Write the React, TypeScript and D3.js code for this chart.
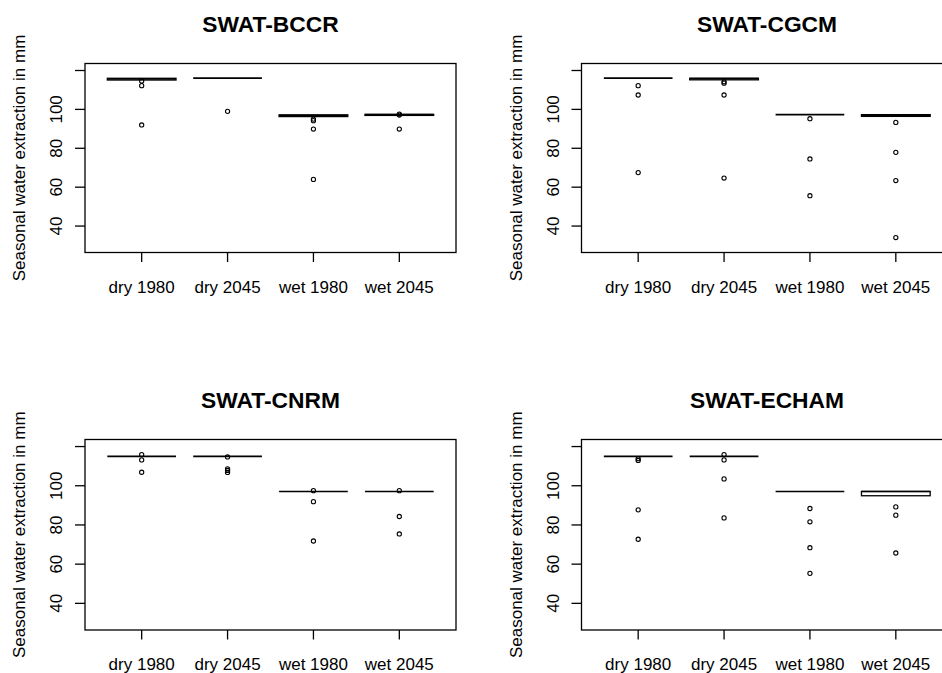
import React from "react";
import * as d3 from "d3";

const models = ["SWAT-BCCR", "SWAT-CGCM", "SWAT-CNRM", "SWAT-ECHAM"];
const groups = ["dry 1980", "dry 2045", "wet 1980", "wet 2045"];
const yTicks = [40, 60, 80, 100, 120];
const yTickLabels = ["40", "60", "80", "100", ""];
const yLabel = "Seasonal water extraction in mm";

// lower quartile, median, upper quartile per model (rows) and group (columns)
const q1 = [
  [115.1, 116.1, 96.3, 96.9],
  [116.1, 115.2, 97.3, 96.4],
  [115.0, 115.0, 97.1, 97.1],
  [115.0, 115.0, 97.1, 94.9],
];
const med = [
  [115.6, 116.1, 96.8, 97.3],
  [116.1, 115.8, 97.3, 97.0],
  [115.0, 115.0, 97.1, 97.1],
  [115.0, 115.0, 97.1, 97.1],
];
const q3 = [
  [116.0, 116.1, 97.2, 97.4],
  [116.1, 116.0, 97.3, 97.3],
  [115.0, 115.0, 97.1, 97.1],
  [115.0, 115.0, 97.1, 97.1],
];
const outliers = [
  [[114.6, 112.2, 92.0], [99.0], [95.0, 94.2, 89.9, 64.0], [97.6, 97.1, 89.9]],
  [[112.2, 107.4, 67.5], [114.2, 113.5, 107.4, 64.7], [95.2, 74.5, 55.6], [93.3, 77.9, 63.4, 34.1]],
  [[115.9, 113.2, 106.9], [114.7, 108.6, 107.8, 106.8], [97.5, 91.9, 71.8], [97.5, 84.3, 75.4]],
  [[113.8, 112.9, 87.7, 72.7], [115.9, 113.2, 103.5, 83.6], [88.4, 81.6, 68.4, 55.3], [89.2, 85.0, 65.7]],
];

const W = 942;
const H = 673;
const colLeft = [85, 581.5];
const plotW = 371;
const rowTop = [63.5, 439.5];
const rowH = [189, 190.5];
const font = "'Liberation Sans', Arial, sans-serif";

function Panel({ idx }: { idx: number }) {
  const col = idx % 2;
  const row = Math.floor(idx / 2);
  const left = colLeft[col];
  const top = rowTop[row];
  const h = rowH[row];
  const x = d3.scaleLinear().domain([0.34, 4.66]).range([left, left + plotW]);
  const y = d3.scaleLinear().domain([26.4, 123.6]).range([top + h, top]);
  const half = 0.4;
  const bottom = top + h;
  return (
    <g>
      <text
        x={left + plotW / 2}
        y={top - 31.5}
        textAnchor="middle"
        fontFamily={font}
        fontWeight="bold"
        fontSize={22.8}
        fill="#000"
      >
        {models[idx]}
      </text>
      <rect x={left} y={top} width={plotW} height={h} fill="none" stroke="#000" strokeWidth={1.3} />
      {yTicks.map((t, i) => (
        <g key={"y" + i}>
          <line x1={left - 10} x2={left} y1={y(t)} y2={y(t)} stroke="#000" strokeWidth={1.3} />
          {yTickLabels[i] && (
            <text
              transform={`translate(${left - 23},${y(t)}) rotate(-90)`}
              textAnchor="middle"
              fontFamily={font}
              fontSize={17}
              fill="#000"
            >
              {yTickLabels[i]}
            </text>
          )}
        </g>
      ))}
      <text
        transform={`translate(${left - 60},${top + h / 2}) rotate(-90)`}
        textAnchor="middle"
        fontFamily={font}
        fontSize={17}
        fill="#000"
      >
        {yLabel}
      </text>
      {groups.map((g, i) => (
        <g key={"x" + i}>
          <line x1={x(i + 1)} x2={x(i + 1)} y1={bottom} y2={bottom + 9.5} stroke="#000" strokeWidth={1.3} />
          <text x={x(i + 1)} y={bottom + 40} textAnchor="middle" fontFamily={font} fontSize={17} fill="#000">
            {g}
          </text>
        </g>
      ))}
      {groups.map((g, i) => {
        const cx = i + 1;
        const yTop = y(q3[idx][i]);
        const yBot = y(q1[idx][i]);
        return (
          <g key={"b" + i}>
            <rect
              x={x(cx - half)}
              y={yTop}
              width={x(cx + half) - x(cx - half)}
              height={Math.max(0, yBot - yTop)}
              fill="#fff"
              stroke="#000"
              strokeWidth={1.3}
            />
            <line
              x1={x(cx - half)}
              x2={x(cx + half)}
              y1={y(med[idx][i])}
              y2={y(med[idx][i])}
              stroke="#000"
              strokeWidth={1.6}
            />
            {outliers[idx][i].map((v, k) => (
              <circle key={k} cx={x(cx)} cy={y(v)} r={2.1} fill="none" stroke="#000" strokeWidth={1.1} />
            ))}
          </g>
        );
      })}
    </g>
  );
}

export default function App() {
  return (
    <svg
      width={W}
      height={H}
      style={{ position: "absolute", left: 0, top: 0, background: "#fff" }}
    >
      <rect x={0} y={0} width={W} height={H} fill="#fff" />
      {models.map((m, i) => (
        <Panel key={m} idx={i} />
      ))}
    </svg>
  );
}
